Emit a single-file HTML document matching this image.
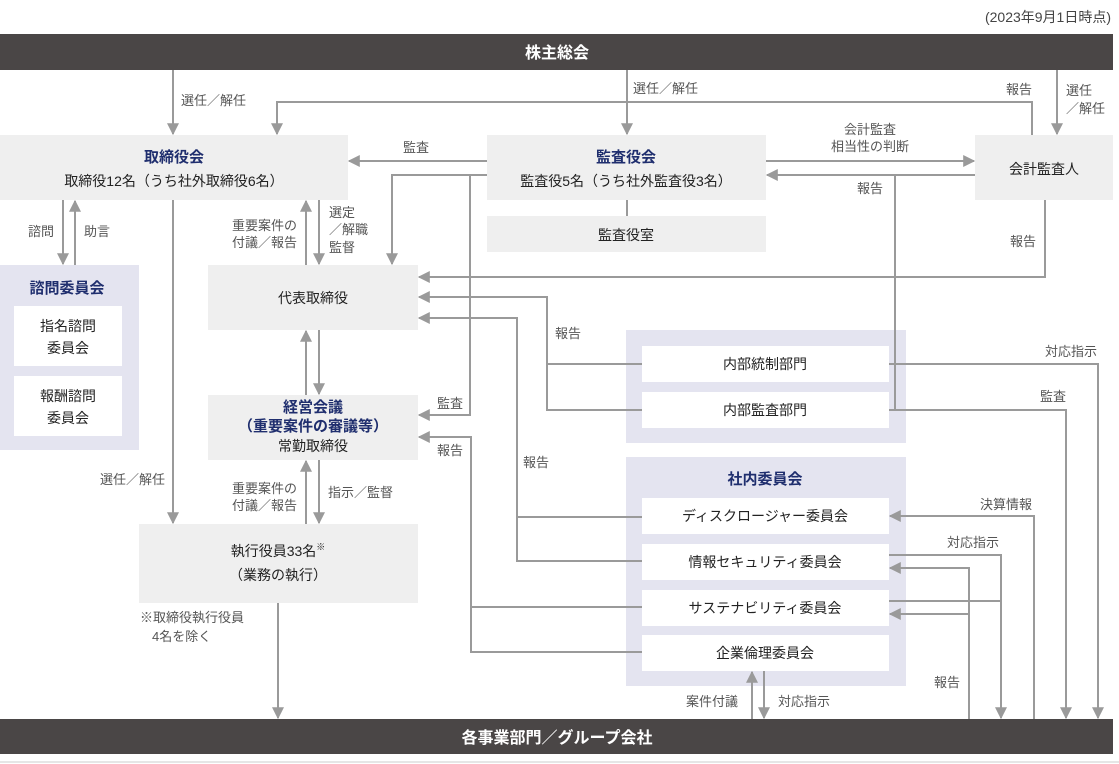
<!DOCTYPE html>
<html><head><meta charset="utf-8"><style>
html,body{margin:0;padding:0;background:#fff;}
svg{display:block;font-family:"Liberation Sans","Noto Sans CJK JP",sans-serif;}
.l{stroke:#9a9a9a;stroke-width:2;fill:none;}
.m polyline{marker-end:url(#a);}
.t{font-size:13px;fill:#555;}
.b{font-size:14px;fill:#222;}
.n{font-size:15px;fill:#1f2e6e;font-weight:bold;}
</style></head><body>
<svg width="1119" height="764" viewBox="0 0 1119 764" xmlns="http://www.w3.org/2000/svg">
<defs>
<marker id="a" viewBox="0 0 10 10" refX="9" refY="5" markerWidth="12" markerHeight="12" markerUnits="userSpaceOnUse" orient="auto"><path d="M0,0L10,5L0,10z" fill="#9a9a9a"/></marker>
</defs>
<text x="1111" y="22" text-anchor="end" style="fill:#444;font-size:14px">(2023年9月1日時点)</text>
<rect x="0" y="34" width="1113" height="36" fill="#4a4646"/>
<text x="557" y="58" text-anchor="middle" font-size="16" font-weight="bold" fill="#fff">株主総会</text>
<rect x="0" y="719" width="1113" height="35" fill="#4a4646"/>
<text x="557" y="743" text-anchor="middle" font-size="16" font-weight="bold" fill="#fff">各事業部門／グループ会社</text>
<line x1="0" y1="762" x2="1119" y2="762" stroke="#ccc" stroke-width="1"/>

<rect x="0" y="135" width="348" height="65" fill="#efefef"/>
<text x="174" y="162" text-anchor="middle" class="n">取締役会</text>
<text x="174" y="186" text-anchor="middle" class="b">取締役12名（うち社外取締役6名）</text>
<rect x="487" y="135" width="279" height="65" fill="#efefef"/>
<text x="626" y="162" text-anchor="middle" class="n">監査役会</text>
<text x="626" y="186" text-anchor="middle" class="b">監査役5名（うち社外監査役3名）</text>
<rect x="487" y="216" width="279" height="36" fill="#efefef"/>
<text x="626" y="240" text-anchor="middle" class="b" font-size="15">監査役室</text>
<rect x="975" y="135" width="138" height="65" fill="#efefef"/>
<text x="1044" y="174" text-anchor="middle" class="b">会計監査人</text>

<rect x="0" y="265" width="139" height="185" fill="#e4e4f0"/>
<text x="67" y="293" text-anchor="middle" class="n">諮問委員会</text>
<rect x="14" y="306" width="108" height="60" fill="#fff"/>
<text x="68" y="331" text-anchor="middle" class="b">指名諮問</text>
<text x="68" y="353" text-anchor="middle" class="b">委員会</text>
<rect x="14" y="376" width="108" height="60" fill="#fff"/>
<text x="68" y="401" text-anchor="middle" class="b">報酬諮問</text>
<text x="68" y="423" text-anchor="middle" class="b">委員会</text>

<rect x="208" y="265" width="210" height="65" fill="#efefef"/>
<text x="313" y="303" text-anchor="middle" class="b">代表取締役</text>
<rect x="208" y="395" width="210" height="65" fill="#efefef"/>
<text x="313" y="412" text-anchor="middle" class="n" font-size="14">経営会議</text>
<text x="313" y="431" text-anchor="middle" class="n" font-size="13">（重要案件の審議等）</text>
<text x="313" y="451" text-anchor="middle" class="b">常勤取締役</text>
<rect x="139" y="524" width="279" height="79" fill="#efefef"/>
<text x="278" y="556" text-anchor="middle" class="b">執行役員33名<tspan font-size="9" dy="-6">※</tspan></text>
<text x="278" y="580" text-anchor="middle" class="b">（業務の執行）</text>
<text x="140" y="622" class="t">※取締役執行役員</text>
<text x="152" y="641" class="t">4名を除く</text>

<rect x="626" y="330" width="280" height="113" fill="#e4e4f0"/>
<rect x="642" y="346" width="247" height="36" fill="#fff"/>
<text x="765" y="369" text-anchor="middle" class="b">内部統制部門</text>
<rect x="642" y="392" width="247" height="36" fill="#fff"/>
<text x="765" y="415" text-anchor="middle" class="b">内部監査部門</text>

<rect x="626" y="457" width="280" height="229" fill="#e4e4f0"/>
<text x="765" y="484" text-anchor="middle" class="n">社内委員会</text>
<rect x="642" y="498" width="247" height="36" fill="#fff"/>
<text x="765" y="521" text-anchor="middle" class="b">ディスクロージャー委員会</text>
<rect x="642" y="544" width="247" height="36" fill="#fff"/>
<text x="765" y="567" text-anchor="middle" class="b">情報セキュリティ委員会</text>
<rect x="642" y="590" width="247" height="36" fill="#fff"/>
<text x="765" y="613" text-anchor="middle" class="b">サステナビリティ委員会</text>
<rect x="642" y="635" width="247" height="36" fill="#fff"/>
<text x="765" y="658" text-anchor="middle" class="b">企業倫理委員会</text>

<g class="l m">
<polyline points="173,70 173,134"/>
<polyline points="627,70 627,134"/>
<polyline points="1057,70 1057,134"/>
<polyline points="1032,135 1032,102 277,102 277,134"/>
<polyline points="487,161 349,161"/>
<polyline points="487,175 392,175 392,264"/>
<polyline points="487,175 470,175 470,415 419,415"/>
<polyline points="766,161 974,161"/>
<polyline points="975,175 767,175"/>
<polyline points="1045,200 1045,277 419,277"/>
<polyline points="642,364 547,364 547,297 419,297"/>
<polyline points="642,517 517,517 517,318 419,318"/>
<polyline points="642,652 471,652 471,437 419,437"/>
<polyline points="63,200 63,264"/>
<polyline points="75,265 75,201"/>
<polyline points="306,265 306,201"/>
<polyline points="319,200 319,264"/>
<polyline points="306,395 306,331"/>
<polyline points="319,330 319,394"/>
<polyline points="306,524 306,461"/>
<polyline points="319,460 319,523"/>
<polyline points="173,200 173,523"/>
<polyline points="278,603 278,718"/>
<polyline points="889,364 1098,364 1098,718"/>
<polyline points="889,410 1066,410 1066,718"/>
<polyline points="1034,719 1034,516 890,516"/>
<polyline points="889,555 1001,555 1001,718"/>
<polyline points="969,719 969,568 890,568"/>
<polyline points="969,614 890,614"/>
<polyline points="752,719 752,672"/>
<polyline points="764,671 764,718"/>
</g>
<g class="l">
<polyline points="627,200 627,216"/>
<polyline points="895,175 895,410 889,410"/>
<polyline points="547,364 547,410 642,410"/>
<polyline points="517,517 517,561 642,561"/>
<polyline points="471,607 642,607"/>
<polyline points="889,601 1001,601"/>
</g>

<text x="181" y="105" class="t">選任／解任</text>
<text x="633" y="93" class="t">選任／解任</text>
<text x="1006" y="94" class="t">報告</text>
<text x="1066" y="95" class="t">選任</text>
<text x="1066" y="113" class="t">／解任</text>
<text x="403" y="152" class="t">監査</text>
<text x="870" y="134" text-anchor="middle" class="t">会計監査</text>
<text x="870" y="151" text-anchor="middle" class="t">相当性の判断</text>
<text x="870" y="193" text-anchor="middle" class="t">報告</text>
<text x="1010" y="246" class="t">報告</text>
<text x="28" y="236" class="t">諮問</text>
<text x="84" y="236" class="t">助言</text>
<text x="232" y="230" class="t">重要案件の</text>
<text x="232" y="247" class="t">付議／報告</text>
<text x="329" y="217" class="t">選定</text>
<text x="329" y="234" class="t">／解職</text>
<text x="329" y="252" class="t">監督</text>
<text x="555" y="338" class="t">報告</text>
<text x="437" y="408" class="t">監査</text>
<text x="437" y="455" class="t">報告</text>
<text x="523" y="467" class="t">報告</text>
<text x="100" y="484" class="t">選任／解任</text>
<text x="232" y="493" class="t">重要案件の</text>
<text x="232" y="510" class="t">付議／報告</text>
<text x="328" y="497" class="t">指示／監督</text>
<text x="1045" y="356" class="t">対応指示</text>
<text x="1040" y="401" class="t">監査</text>
<text x="980" y="509" class="t">決算情報</text>
<text x="947" y="547" class="t">対応指示</text>
<text x="934" y="687" class="t">報告</text>
<text x="686" y="706" class="t">案件付議</text>
<text x="778" y="706" class="t">対応指示</text>
</svg>
</body></html>
